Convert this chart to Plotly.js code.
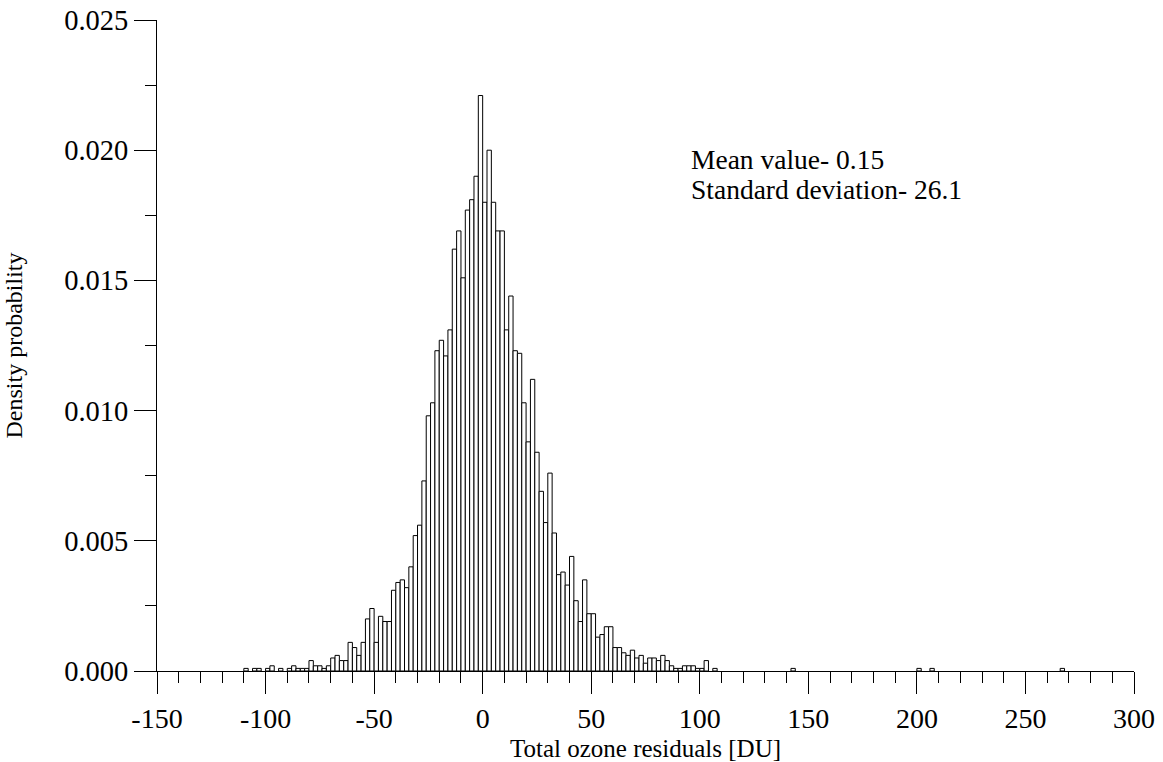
<!DOCTYPE html>
<html>
<head>
<meta charset="utf-8">
<script src="https://cdn.plot.ly/plotly-3.0.1.min.js"></script>
<style>
  html, body { margin: 0; padding: 0; background: #fff; }
  #chart { width: 1163px; height: 762px; }
</style>
</head>
<body>
<div id="chart"></div>
<script>
// Histogram of total ozone residuals, 2 DU bins (left edge of each non-empty bin)
const binStart = [
  -110, -106, -104, -100, -98, -94, -90, -88, -86, -84, -82, -80, -78, -76, -74, -72,
  -70, -68, -66, -64, -62, -60, -58, -56, -54, -52, -50, -48, -46, -44, -42, -40,
  -38, -36, -34, -32, -30, -28, -26, -24, -22, -20, -18, -16, -14, -12, -10, -8,
  -6, -4, -2, 0, 2, 4, 6, 8, 10, 12, 14, 16, 18, 20, 22, 24,
  26, 28, 30, 32, 34, 36, 38, 40, 42, 44, 46, 48, 50, 52, 54, 56,
  58, 60, 62, 64, 66, 68, 70, 72, 74, 76, 78, 80, 82, 84, 86, 88,
  90, 92, 94, 96, 98, 100, 102, 106, 142, 200, 206, 266
];
const density = [
  0.0001, 0.0001, 0.0001, 0.0001, 0.0002, 0.0001, 0.0001, 0.0002, 0.0001, 0.0001, 0.0001, 0.0004, 0.0002, 0.0002, 0.0001, 0.0002,
  0.0005, 0.0006, 0.0004, 0.0004, 0.0011, 0.0009, 0.0006, 0.0011, 0.0020, 0.0024, 0.0011, 0.0021, 0.0019, 0.0019, 0.0031, 0.0034,
  0.0035, 0.0032, 0.0040, 0.0052, 0.0056, 0.0073, 0.0098, 0.0103, 0.0123, 0.0127, 0.0121, 0.0131, 0.0162, 0.0169, 0.0151, 0.0177,
  0.0181, 0.0190, 0.0221, 0.0180, 0.0200, 0.0180, 0.0169, 0.0169, 0.0131, 0.0144, 0.0123, 0.0122, 0.0103, 0.0088, 0.0112, 0.0084,
  0.0069, 0.0057, 0.0076, 0.0053, 0.0037, 0.0038, 0.0033, 0.0044, 0.0027, 0.0019, 0.0035, 0.0022, 0.0022, 0.0013, 0.0014, 0.0017,
  0.0017, 0.0009, 0.0009, 0.0007, 0.0006, 0.0008, 0.0005, 0.0006, 0.0003, 0.0005, 0.0005, 0.0004, 0.0006, 0.0004, 0.0002, 0.0001,
  0.0001, 0.0002, 0.0002, 0.0002, 0.0001, 0.0001, 0.0004, 0.0001, 0.0001, 0.0001, 0.0001, 0.0001
];
const binWidth = 2;

const xTickVals = [-150, -100, -50, 0, 50, 100, 150, 200, 250, 300];
const xTickText = ["-150", "-100", "-50", "0", "50", "100", "150", "200", "250", "300"];
const yTickVals = [0, 0.005, 0.010, 0.015, 0.020, 0.025];
const yTickText = ["0.000", "0.005", "0.010", "0.015", "0.020", "0.025"];

const statLines = ["Mean value- 0.15", "Standard deviation- 26.1"];

const serif = "Liberation Serif, Times New Roman, serif";

const trace = {
  type: "bar",
  x: binStart.map(b => b + binWidth / 2),
  y: density,
  width: binStart.map(() => binWidth),
  marker: { color: "#ffffff", line: { color: "#000000", width: 1 } },
  hoverinfo: "x+y"
};

const layout = {
  width: 1163,
  height: 762,
  margin: { l: 157, r: 29, t: 20, b: 91 },
  paper_bgcolor: "#ffffff",
  plot_bgcolor: "#ffffff",
  showlegend: false,
  bargap: 0,
  font: { family: serif, color: "#000000" },
  xaxis: {
    range: [-150, 300],
    tickmode: "array",
    tickvals: xTickVals,
    ticktext: xTickText,
    ticks: "outside",
    ticklen: 22,
    tickwidth: 1,
    tickcolor: "#000000",
    tickfont: { family: serif, size: 28, color: "#000000" },
    minor: { tickmode: "linear", tick0: -150, dtick: 10, ticks: "outside", ticklen: 11, tickwidth: 1, tickcolor: "#000000", showgrid: false },
    showline: true,
    linecolor: "#000000",
    linewidth: 1,
    showgrid: false,
    zeroline: false,
    title: { text: "Total ozone residuals [DU]", font: { family: serif, size: 25, color: "#000000" }, standoff: 6 }
  },
  yaxis: {
    range: [0, 0.025],
    tickmode: "array",
    tickvals: yTickVals,
    ticktext: yTickText,
    ticks: "outside",
    ticklen: 22,
    tickwidth: 1,
    tickcolor: "#000000",
    tickfont: { family: serif, size: 28.5, color: "#000000" },
    minor: { tickmode: "linear", tick0: 0, dtick: 0.0025, ticks: "outside", ticklen: 11, tickwidth: 1, tickcolor: "#000000", showgrid: false },
    showline: true,
    linecolor: "#000000",
    linewidth: 1,
    showgrid: false,
    zeroline: false,
    title: { text: "Density probability", font: { family: serif, size: 24, color: "#000000" }, standoff: 34 }
  },
  annotations: [
    { xref: "paper", yref: "paper", x: 0.5446, y: 0.785, xanchor: "left", yanchor: "middle", showarrow: false,
      text: statLines[0], font: { family: serif, size: 27.5, color: "#000000" } },
    { xref: "paper", yref: "paper", x: 0.5446, y: 0.739, xanchor: "left", yanchor: "middle", showarrow: false,
      text: statLines[1], font: { family: serif, size: 27.5, color: "#000000" } }
  ]
};

Plotly.newPlot("chart", [trace], layout, { displayModeBar: false, staticPlot: true });
</script>
</body>
</html>
